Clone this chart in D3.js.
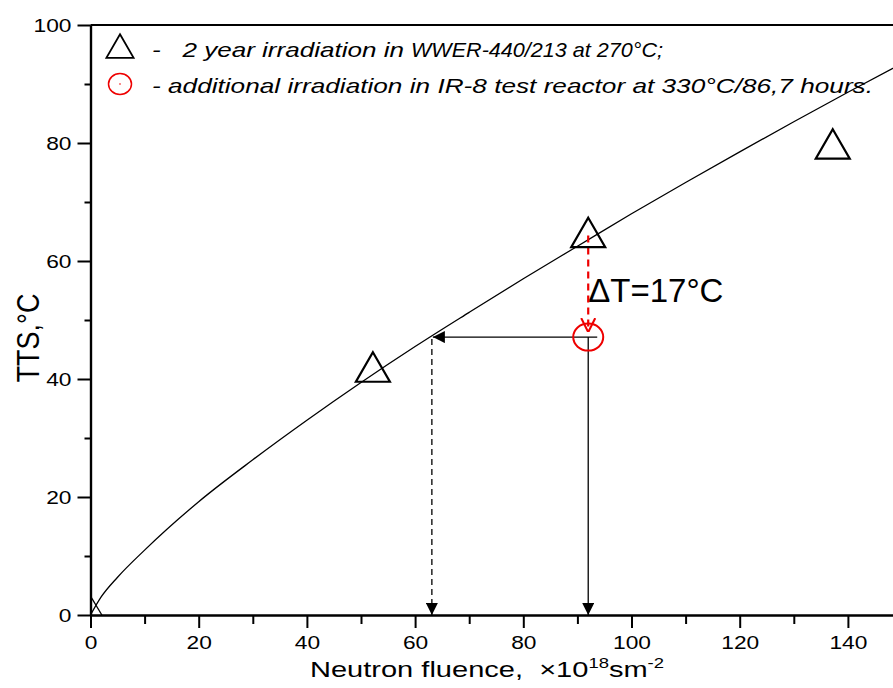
<!DOCTYPE html>
<html><head><meta charset="utf-8">
<script src="https://cdn.jsdelivr.net/npm/d3@7"></script>
<style>
body{margin:0;background:#fff;}
text{font-family:"Liberation Sans",Arial,sans-serif;}
</style></head>
<body><svg id="c" width="893" height="688"></svg>
<script>
// ---- data ----
const xTicks = [0,20,40,60,80,100,120,140];
const yTicks = [0,20,40,60,80,100];
const fitFluence = [0,2,5,10,20,30,40,50,60,70,80,90,100,110,120,130,140,150];
const fitTTS     = [0,3.1,6.4,11.0,19.2,26.3,33.0,39.4,45.5,51.3,57.0,62.5,68.0,73.3,78.5,83.6,88.6,93.5];
const triFluence = [52.2, 92, 137.2];
const triTTS     = [41.2, 64.0, 79.0];
const circFluence = [92];
const circTTS     = [47.1];
const originMarkX = [0, 2.1];
const originMarkY = [3.2, 0];
const readFluence = 63.1; // fluence read back from curve at TTS of circle
const legend1Parts = ["-   2 year irradiation in", "WWER-440/213 at 270°C;"];
const legend2 = "- additional irradiation in IR-8 test reactor at 330°C/86,7 hours.";

const SX = 1.23; // horizontal stretch of the original figure's lettering
const svg = d3.select("#c");
const x = d3.scaleLinear().domain([0,150]).range([90.5, 902]);
const y = d3.scaleLinear().domain([0,100]).range([615, 25]);

// defs
const defs = svg.append("defs");
defs.append("marker").attr("id","ah").attr("viewBox","0 0 10 10").attr("refX",10).attr("refY",5)
  .attr("markerWidth",16).attr("markerHeight",12).attr("markerUnits","userSpaceOnUse").attr("orient","auto")
  .append("path").attr("d","M0,0L10,5L0,10Z").attr("fill","#000");
defs.append("marker").attr("id","ahr").attr("viewBox","0 0 10 10").attr("refX",10).attr("refY",5)
  .attr("markerWidth",14).attr("markerHeight",16).attr("markerUnits","userSpaceOnUse").attr("orient","auto")
  .append("path").attr("d","M0,0L10,5L0,10").attr("fill","none").attr("stroke","#e00").attr("stroke-width",1.5);

// axes
const xAxis = svg.append("g").attr("transform","translate(0,615)")
  .call(d3.axisBottom(x).tickValues(xTicks).tickSize(13).tickSizeOuter(0).tickPadding(8));
const xMinor = svg.append("g").attr("transform","translate(0,615)")
  .call(d3.axisBottom(x).tickValues(d3.range(10,150,20)).tickSize(9).tickFormat("").tickSizeOuter(0));
const yAxis = svg.append("g").attr("transform","translate(90.5,0)")
  .call(d3.axisLeft(y).tickValues(yTicks).tickSize(13).tickSizeOuter(0).tickPadding(6));
const yMinor = svg.append("g").attr("transform","translate(90.5,0)")
  .call(d3.axisLeft(y).tickValues(d3.range(10,100,20)).tickSize(6).tickFormat("").tickSizeOuter(0));
[xAxis,xMinor,yAxis,yMinor].forEach(g=>{
  g.selectAll("path.domain").attr("stroke","#000").attr("stroke-width",2.2);
  g.selectAll(".tick line").attr("stroke","#000").attr("stroke-width",2);
  g.selectAll(".tick text").attr("font-size",18.5).attr("fill","#000").attr("font-family","Liberation Sans, Arial, sans-serif");
});
xAxis.selectAll(".tick text").attr("transform",`scale(${SX},1)`);
yAxis.selectAll(".tick text").attr("dy","0.36em").attr("x",-19/SX).attr("transform",`scale(${SX},1)`);
// top frame
svg.append("line").attr("x1",x(0)).attr("x2",893).attr("y1",y(100)).attr("y2",y(100))
  .attr("stroke","#000").attr("stroke-width",2.2);

// axis titles
svg.append("g").attr("transform",`translate(39,${y(50)+18}) scale(1.15,1)`)
  .append("text").attr("transform","rotate(-90)").attr("text-anchor","middle").attr("font-size",27).text("TTS,°C");
const xt = svg.append("g").attr("transform","translate(310,677) scale(1.32,1)")
  .append("text").attr("x",0).attr("y",0).attr("font-size",22).style("white-space","pre");
xt.append("tspan").text("Neutron fluence,  ×10");
xt.append("tspan").attr("dy",-9).attr("font-size",14).text("18");
xt.append("tspan").attr("dy",9).text("sm");
xt.append("tspan").attr("dy",-9).attr("font-size",14).text("-2");

// clip
defs.append("clipPath").attr("id","pc").append("rect").attr("x",x(0)).attr("y",y(100)).attr("width",893-x(0)).attr("height",y(0)-y(100));
const plot = svg.append("g").attr("clip-path","url(#pc)");

// fitted curve
const fit = fitFluence.map((f,i)=>[f,fitTTS[i]]);
plot.append("path").datum(fit).attr("fill","none").attr("stroke","#000").attr("stroke-width",1.3)
  .attr("d",d3.line().x(d=>x(d[0])).y(d=>y(d[1])).curve(d3.curveMonotoneX));
// origin mark
svg.append("line").attr("x1",x(originMarkX[0])).attr("y1",y(originMarkY[0]))
  .attr("x2",x(originMarkX[1])).attr("y2",y(originMarkY[1])).attr("stroke","#000").attr("stroke-width",1.3);

// annotation lines
const cf = circFluence[0], ct = circTTS[0];
svg.append("line").attr("x1",x(cf)).attr("y1",y(triTTS[1])-2).attr("x2",x(cf)).attr("y2",y(ct)-5)
  .attr("stroke","#e00").attr("stroke-width",2.2).attr("stroke-dasharray","7,5").attr("marker-end","url(#ahr)");
svg.append("line").attr("x1",x(cf)+9).attr("y1",y(ct)).attr("x2",x(readFluence)+1).attr("y2",y(ct))
  .attr("stroke","#000").attr("stroke-width",1.3).attr("marker-end","url(#ah)");
svg.append("line").attr("x1",x(cf)).attr("y1",y(ct)).attr("x2",x(cf)).attr("y2",y(0))
  .attr("stroke","#000").attr("stroke-width",1.3).attr("marker-end","url(#ah)");
svg.append("line").attr("x1",x(readFluence)).attr("y1",y(ct)+2).attr("x2",x(readFluence)).attr("y2",y(0))
  .attr("stroke","#000").attr("stroke-width",1.3).attr("stroke-dasharray","6,4").attr("marker-end","url(#ah)");

// triangles
const tri = d3.symbol().type(d3.symbolTriangle).size(500);
svg.selectAll("path.tri").data(triFluence.map((f,i)=>[f,triTTS[i]])).join("path").attr("class","tri")
  .attr("d",tri).attr("transform",d=>`translate(${x(d[0])},${y(d[1])})`)
  .attr("fill","none").attr("stroke","#000").attr("stroke-width",2.2);
// circle (slightly wider than tall, like the original)
svg.selectAll("ellipse.ir").data(circFluence.map((f,i)=>[f,circTTS[i]])).join("ellipse").attr("class","ir")
  .attr("cx",d=>x(d[0])).attr("cy",d=>y(d[1])).attr("rx",15).attr("ry",13.5)
  .attr("fill","none").attr("stroke","#e00").attr("stroke-width",2);

// delta T label
svg.append("text").attr("x",x(cf)).attr("y",302).attr("font-size",33).text("ΔT=17°C");

// legend
const lg = svg.append("g");
lg.append("path").attr("d",d3.symbol().type(d3.symbolTriangle).size(320)())
  .attr("transform","translate(120,50)").attr("fill","none").attr("stroke","#000").attr("stroke-width",1.8);
lg.append("ellipse").attr("cx",120).attr("cy",84).attr("rx",11.5).attr("ry",10.5).attr("fill","none").attr("stroke","#e00").attr("stroke-width",1.5);
lg.append("circle").attr("cx",120).attr("cy",84).attr("r",0.8).attr("fill","#e00");
lg.append("text").attr("x",152).attr("y",57).attr("font-size",21).attr("font-style","italic")
  .style("white-space","pre").attr("textLength",252).attr("lengthAdjust","spacingAndGlyphs").text(legend1Parts[0]);
lg.append("text").attr("x",411).attr("y",57).attr("font-size",21).attr("font-style","italic")
  .attr("textLength",252).attr("lengthAdjust","spacingAndGlyphs").text(legend1Parts[1]);
lg.append("text").attr("x",152).attr("y",93).attr("font-size",21).attr("font-style","italic")
  .attr("textLength",721).attr("lengthAdjust","spacingAndGlyphs").text(legend2);
</script></body></html>
